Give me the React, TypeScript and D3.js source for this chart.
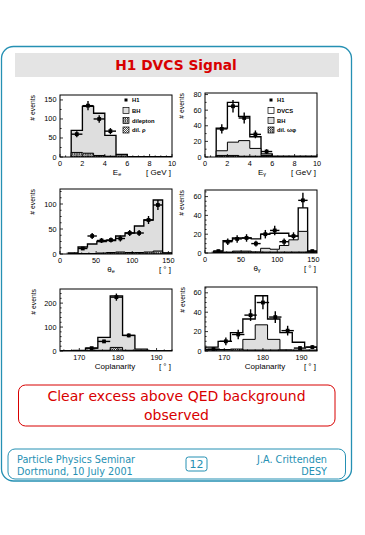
import React from "react";
import * as d3 from "d3";

// ---------- data ----------
// Panel 1: E_e
const eEdges = [1, 2, 3, 4, 5, 6, 7, 8, 9, 10];
const eBH = [70, 133, 115, 57, 7, 1, 1, 1, 1];
const eHatch = [12, 10, 4, 2, 6, 1, 1, 1, 1];
const eCenters = [1.5, 2.5, 3.5, 4.5];
const eData = [60, 135, 100, 68];
const eErr = [8, 12, 10, 8];

// Panel 2: E_gamma
const gEdges = [1, 2, 3, 4, 5, 6, 7, 8, 9, 10];
const gTotal = [37, 70, 52, 26, 4, 1, 1, 1, 1];
const gBH = [8, 19, 21, 11, 2, 0.5, 0.5, 0.5, 0.5];
const gHatch = [2, 2, 1, 1, 1, 0.5, 0.5, 0.5, 0.5];
const gCenters = [1.5, 2.5, 3.5, 4.5, 5.5];
const gData = [36, 65, 50, 29, 7];
const gErr = [6, 8, 7, 5, 3];

// Panel 3: theta_e
const teEdges = [12, 25, 38, 51, 64, 77, 90, 103, 116, 129, 142, 155];
const teBH = [2, 14, 20, 25, 27, 36, 42, 56, 68, 108, 2];
const teHatch = [1, 1, 1, 2, 3, 4, 3, 3, 4, 6, 2];
const teCenters = [31.5, 44.5, 57.5, 70.5, 83.5, 96.5, 109.5, 122.5, 135.5];
const teData = [11, 36, 27, 28, 31, 42, 42, 68, 98];
const teErr = [3, 6, 5, 5, 6, 6, 6, 8, 10];

// Panel 4: theta_gamma
const tgEdges = [12, 25, 38, 51, 64, 77, 90, 103, 116, 129, 142, 155];
const tgTotal = [2, 13, 16, 16, 15, 20, 21, 21, 18, 48, 2];
const tgBH = [0.5, 1, 2, 2, 1, 5, 4, 8, 14, 23, 1];
const tgHatch = [0.5, 0.5, 1, 1, 1, 1, 1, 1, 1, 1, 1];
const tgCenters = [18.5, 31.5, 44.5, 57.5, 70.5, 83.5, 96.5, 109.5, 122.5, 135.5, 148.5];
const tgData = [2, 12, 15, 16, 10, 20, 24, 12, 18, 56, 2];
const tgErr = [1.5, 3.5, 4, 4, 3, 4.5, 5, 3.5, 4, 8, 1.5];

// Panel 5: coplanarity (e)
const cEdges = [165.2, 168.4, 171.6, 174.8, 178, 181.2, 184.4, 187.6, 190.8, 194];
const cBH = [0.5, 2, 12, 57, 230, 65, 8, 1, 0.5];
const cHatch = [0, 0.5, 3, 3, 15, 3, 2, 0.5, 0];
const cCenters = [173.2, 176.4, 179.6, 182.8];
const cData = [12, 40, 225, 65];
const cErr = [5, 7, 15, 8];

// Panel 6: coplanarity (gamma)
const c2Edges = [165.2, 168.4, 171.6, 174.8, 178, 181.2, 184.4, 187.6, 190.8, 194];
const c2Total = [4, 10, 19, 33, 57, 33, 19, 9, 4];
const c2BH = [0.5, 1, 1, 12, 27, 12, 1, 0.5, 0.5];
const c2Hatch = [1.5, 1.5, 2, 1, 1, 1, 1, 1, 1];
const c2Centers = [167.2, 170.4, 173.6, 176.8, 180, 183.2, 186.4, 189.6, 192.8];
const c2Data = [2, 10, 17, 37, 50, 35, 21, 3, 4];
const c2Err = [1.5, 4, 5, 6, 7, 6, 5, 2, 2];

const legendBH = ["H1", "BH", "dilepton", "dil. ρ"];
const legendDVCS = ["H1", "DVCS", "BH", "dil. ωφ"];

// ---------- styles ----------
const PLOT_FONT = "'Liberation Sans', Arial, Helvetica, sans-serif";
const SLIDE_FONT = "'DejaVu Sans', Verdana, sans-serif";
const TEAL = "#2590b3";
const RED = "#d80000";
const GRAY = "#dedede";

type PanelProps = {
  id: string;
  left: number;
  top: number;
  w: number;
  h: number;
  xDomain: [number, number];
  yMax: number;
  xMajor: number[];
  xMinor: number;
  yMajor: number[];
  yMinor: number;
  xTitle: string;
  xSub?: string;
  xUnit: string;
  xTitleX: number;
  yTitleDx: number;
  edges: number[];
  total?: number[];
  gray: number[];
  hatch: number[];
  centers: number[];
  values: number[];
  errs: number[];
  legend?: { kind: "bh" | "dvcs"; x: number };
};

function Panel(p: PanelProps) {
  const x = d3.scaleLinear().domain(p.xDomain).range([p.left, p.left + p.w]);
  const y = d3.scaleLinear().domain([0, p.yMax]).range([p.top + p.h, p.top]);
  const bottom = p.top + p.h;
  const step = (vals: number[]) => {
    let d = `M${x(p.edges[0])},${y(0)}`;
    vals.forEach((v, i) => {
      d += `L${x(p.edges[i])},${y(v)}L${x(p.edges[i + 1])},${y(v)}`;
    });
    d += `L${x(p.edges[vals.length])},${y(0)}Z`;
    return d;
  };
  const eps = 1e-6;
  const xMin = d3.range(Math.ceil(p.xDomain[0] / p.xMinor) * p.xMinor, p.xDomain[1] + eps, p.xMinor);
  const yMin = d3.range(0, p.yMax + eps, p.yMinor);
  const half = (p.edges[1] - p.edges[0]) / 2;
  const clipId = `clip-${p.id}`;
  const legendRows = p.legend
    ? p.legend.kind === "bh"
      ? legendBH
      : legendDVCS
    : [];
  const rowY = [100, 110.5, 120.5, 130];
  return (
    <g>
      <defs>
        <clipPath id={clipId}>
          <rect x={p.left} y={p.top} width={p.w} height={p.h} />
        </clipPath>
      </defs>
      <g clipPath={`url(#${clipId})`}>
        {p.total && <path d={step(p.total)} fill="#fff" stroke="#000" strokeWidth={1.35} />}
        <path d={step(p.gray)} fill={GRAY} stroke="#000" strokeWidth={p.total ? 1 : 1.35} />
        <path d={step(p.hatch)} fill="url(#xhatch)" stroke="#000" strokeWidth={1} />
        {p.centers.map((c, i) => (
          <g key={i} stroke="#000" strokeWidth={1.4}>
            <line x1={x(c - half)} x2={x(c + half)} y1={y(p.values[i])} y2={y(p.values[i])} />
            <line x1={x(c)} x2={x(c)} y1={y(p.values[i] - p.errs[i])} y2={y(p.values[i] + p.errs[i])} />
            <rect x={x(c) - 1.9} y={y(p.values[i]) - 1.9} width={3.8} height={3.8} fill="#000" stroke="none" />
          </g>
        ))}
      </g>
      <rect x={p.left} y={p.top} width={p.w} height={p.h} fill="none" stroke="#000" strokeWidth={1} />
      {/* x ticks */}
      {xMin.map((v, i) => {
        const major = p.xMajor.some((m) => Math.abs(m - v) < 1e-6);
        return (
          <line key={`xt${i}`} x1={x(v)} x2={x(v)} y1={bottom} y2={bottom - (major ? 3 : 1.6)} stroke="#000" strokeWidth={0.8} />
        );
      })}
      {p.xMajor.map((v) => (
        <text key={`xl${v}`} x={x(v)} y={bottom + 8.5} textAnchor="middle" fontSize={7.3} fontFamily={PLOT_FONT}>
          {v}
        </text>
      ))}
      {/* y ticks */}
      {yMin.map((v, i) => {
        const major = p.yMajor.some((m) => Math.abs(m - v) < 1e-6);
        return (
          <line key={`yt${i}`} x1={p.left} x2={p.left + (major ? 3 : 1.6)} y1={y(v)} y2={y(v)} stroke="#000" strokeWidth={0.8} />
        );
      })}
      {p.yMajor.map((v) => (
        <text key={`yl${v}`} x={p.left - 3.5} y={y(v) + 2.5} textAnchor="end" fontSize={7.3} fontFamily={PLOT_FONT}>
          {v}
        </text>
      ))}
      <text
        transform={`translate(${p.left - p.yTitleDx},${p.top}) rotate(-90)`}
        textAnchor="end"
        fontSize={6.8}
        fontFamily={PLOT_FONT}
      >
        # events
      </text>
      <text x={p.xTitleX} y={bottom + 17.5} textAnchor="middle" fontSize={8} fontFamily={PLOT_FONT}>
        {p.xTitle}
        {p.xSub && (
          <tspan fontSize={5.5} dy={1.8}>
            {p.xSub}
          </tspan>
        )}
      </text>
      <text x={p.left + p.w - 1} y={bottom + 17.5} textAnchor="end" fontSize={8} fontFamily={PLOT_FONT}>
        {p.xUnit}
      </text>
      {p.legend &&
        legendRows.map((label, i) => {
          const lx = p.legend!.x;
          const ly = rowY[i];
          let sym;
          if (i === 0) {
            sym = <rect x={lx + 1.5} y={ly - 1.5} width={3} height={3} fill="#000" />;
          } else {
            const fill =
              p.legend!.kind === "bh"
                ? i === 1
                  ? GRAY
                  : i === 2
                  ? "url(#xhatch)"
                  : "url(#dhatch)"
                : i === 1
                ? "#fff"
                : i === 2
                ? GRAY
                : "url(#xhatch)";
            sym = <rect x={lx} y={ly - 3} width={6} height={6} fill={fill} stroke="#000" strokeWidth={0.7} />;
          }
          return (
            <g key={label}>
              {sym}
              <text x={lx + 9} y={ly + 2.2} fontSize={5.8} fontWeight="bold" fontFamily={PLOT_FONT}>
                {label}
              </text>
            </g>
          );
        })}
    </g>
  );
}

export default function App() {
  return (
    <svg
      width={365}
      height={535}
      viewBox="0 0 365 535"
      style={{ position: "absolute", left: 0, top: 0, background: "#fff" }}
    >
      <defs>
        <pattern id="xhatch" patternUnits="userSpaceOnUse" width={2.2} height={2.2}>
          <rect width={2.2} height={2.2} fill="#fff" />
          <path d="M0,0L2.2,2.2M2.2,0L0,2.2" stroke="#000" strokeWidth={0.6} />
        </pattern>
        <pattern id="dhatch" patternUnits="userSpaceOnUse" width={2} height={2}>
          <rect width={2} height={2} fill="#fff" />
          <path d="M-0.5,0.5L0.5,-0.5M0,2L2,0M1.5,2.5L2.5,1.5" stroke="#000" strokeWidth={0.7} />
        </pattern>
      </defs>

      {/* slide frame */}
      <rect x={1.5} y={46.5} width={350} height={434.5} rx={12} fill="none" stroke={TEAL} strokeWidth={1.3} />
      <rect x={15} y={53} width={324} height={24} fill="#e4e4e4" />
      <text x={176} y={70} textAnchor="middle" fontSize={13.8} fontWeight="bold" fill={RED} fontFamily={SLIDE_FONT}>
        H1 DVCS Signal
      </text>

      <Panel
        id="p1" left={60} top={95} w={112} h={62} xDomain={[0, 10]} yMax={163}
        xMajor={[0, 2, 4, 6, 8, 10]} xMinor={0.5} yMajor={[0, 50, 100, 150]} yMinor={25}
        xTitle="E" xSub="e" xUnit="[ GeV ]" xTitleX={117} yTitleDx={25.5}
        edges={eEdges} gray={eBH} hatch={eHatch} centers={eCenters} values={eData} errs={eErr}
        legend={{ kind: "bh", x: 123 }}
      />
      <Panel
        id="p2" left={205} top={93} w={112} h={64} xDomain={[0, 10]} yMax={82}
        xMajor={[0, 2, 4, 6, 8, 10]} xMinor={0.5} yMajor={[0, 20, 40, 60, 80]} yMinor={10}
        xTitle="E" xSub="γ" xUnit="[ GeV ]" xTitleX={262} yTitleDx={21}
        edges={gEdges} total={gTotal} gray={gBH} hatch={gHatch} centers={gCenters} values={gData} errs={gErr}
        legend={{ kind: "dvcs", x: 268 }}
      />
      <Panel
        id="p3" left={60} top={189} w={112} h={65} xDomain={[0, 155]} yMax={130}
        xMajor={[0, 50, 100, 150]} xMinor={10} yMajor={[0, 50, 100]} yMinor={12.5}
        xTitle="θ" xSub="e" xUnit="[ ° ]" xTitleX={111} yTitleDx={25}
        edges={teEdges} gray={teBH} hatch={teHatch} centers={teCenters} values={teData} errs={teErr}
      />
      <Panel
        id="p4" left={205} top={190} w={112} h={63} xDomain={[0, 155]} yMax={67}
        xMajor={[0, 50, 100, 150]} xMinor={10} yMajor={[0, 20, 40, 60]} yMinor={5}
        xTitle="θ" xSub="γ" xUnit="[ ° ]" xTitleX={257} yTitleDx={21}
        edges={tgEdges} total={tgTotal} gray={tgBH} hatch={tgHatch} centers={tgCenters} values={tgData} errs={tgErr}
      />
      <Panel
        id="p5" left={60} top={289} w={112} h={62} xDomain={[165, 194]} yMax={259}
        xMajor={[170, 180, 190]} xMinor={2} yMajor={[0, 100, 200]} yMinor={20}
        xTitle="Coplanarity" xUnit="[ ° ]" xTitleX={115} yTitleDx={24.5}
        edges={cEdges} gray={cBH} hatch={cHatch} centers={cCenters} values={cData} errs={cErr}
      />
      <Panel
        id="p6" left={205} top={287} w={112} h={64} xDomain={[165, 194]} yMax={66}
        xMajor={[170, 180, 190]} xMinor={2} yMajor={[0, 20, 40, 60]} yMinor={5}
        xTitle="Coplanarity" xUnit="[ ° ]" xTitleX={265} yTitleDx={20.5}
        edges={c2Edges} total={c2Total} gray={c2BH} hatch={c2Hatch} centers={c2Centers} values={c2Data} errs={c2Err}
      />

      {/* conclusion box */}
      <rect x={18.5} y={385} width={316.5} height={41} rx={7} fill="#fff" stroke={RED} strokeWidth={1} />
      <text x={176.5} y={401} textAnchor="middle" fontSize={14} fill={RED} fontFamily={SLIDE_FONT}>
        Clear excess above QED background
      </text>
      <text x={176.5} y={420} textAnchor="middle" fontSize={14} fill={RED} fontFamily={SLIDE_FONT}>
        observed
      </text>

      {/* footer */}
      <rect x={8} y={449} width={337.5} height={30} rx={7} fill="none" stroke={TEAL} strokeWidth={1} />
      <g fill={TEAL} fontFamily={SLIDE_FONT} fontSize={9.7}>
        <text x={17} y={462.5}>Particle Physics Seminar</text>
        <text x={17} y={474.5}>Dortmund, 10 July 2001</text>
        <text x={327} y={462.5} textAnchor="end">J.A. Crittenden</text>
        <text x={327} y={474.5} textAnchor="end">DESY</text>
      </g>
      <rect x={186} y={457} width={21} height={14} rx={2.5} fill="none" stroke={TEAL} strokeWidth={1} />
      <text x={196.5} y={468} textAnchor="middle" fontSize={11} fill={TEAL} fontFamily={SLIDE_FONT}>
        12
      </text>
    </svg>
  );
}
